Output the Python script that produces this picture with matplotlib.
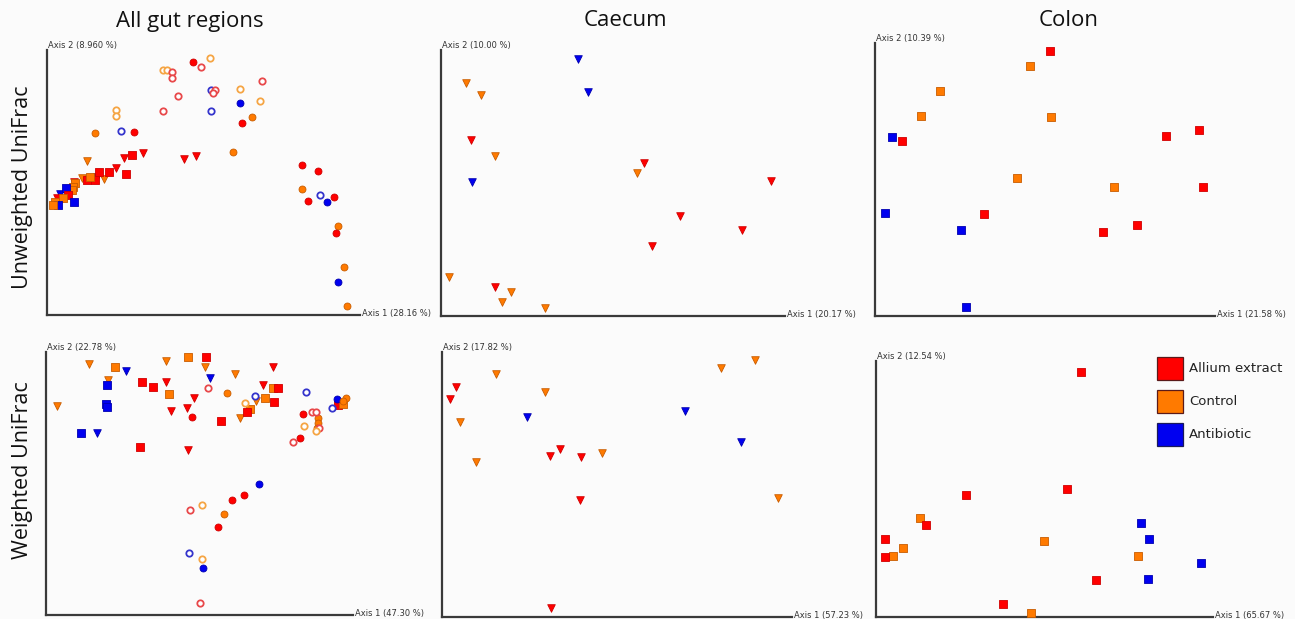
import matplotlib
matplotlib.use("Agg")
import matplotlib.pyplot as plt
from matplotlib.patches import Rectangle

# Treatment groups and their colours
groups = ["Allium extract", "Control", "Antibiotic"]
group_codes = ["A", "C", "B"]
fill_colors = {"A": "#ff0000", "C": "#ff7a00", "B": "#0000f0"}
edge_colors = {"A": "#d00000", "C": "#c85c00", "B": "#0000b0"}
ring_colors = {"A": "#e8484a", "C": "#f5a544", "B": "#3434cc"}

row_labels = ["Unweighted UniFrac", "Weighted UniFrac"]
col_titles = ["All gut regions", "Caecum", "Colon"]

axis1_labels = ["Axis 1 (28.16 %)", "Axis 1 (20.17 %)", "Axis 1 (21.58 %)",
                "Axis 1 (47.30 %)", "Axis 1 (57.23 %)", "Axis 1 (65.67 %)"]
axis2_labels = ["Axis 2 (8.960 %)", "Axis 2 (10.00 %)", "Axis 2 (10.39 %)",
                "Axis 2 (22.78 %)", "Axis 2 (17.82 %)", "Axis 2 (12.54 %)"]

# PCoA ordination scores (axis units).
# Shape codes: o filled circle, O open circle, s square, v triangle.

# --- Unweighted UniFrac, all gut regions
p1_circ_g = "ACABACCAACABACACBC"
p1_circ_x = [146.3, 48.3, 87.3, 193, 195, 205, 185.7, 255, 270.7, 255, 261.3, 280.3, 287.3, 290.7, 288.7, 297, 290.7, 300]
p1_circ_y = [252.7, 182, 183.3, 211.7, 191.7, 197.7, 163.3, 150, 143.7, 126.3, 114.3, 113, 118.3, 89, 82.3, 48, 33.3, 8.7]
p1_open_g = "CACCAAAABAABCACCCBB"
p1_open_x = [163.3, 153.7, 116.3, 119.7, 125.3, 125, 130.7, 115.7, 163.7, 168, 166.3, 163.7, 192.7, 215.3, 212.7, 69, 69, 74.3, 273]
p1_open_y = [257.3, 248, 245, 245, 243.3, 236.7, 219, 204.3, 224.7, 224.7, 222.3, 204, 226.3, 233.7, 214, 204.7, 199, 184.3, 120.3]
p1_tri_g = "CAAAAABCACBA"
p1_tri_x = [39.7, 96.3, 77.3, 69, 137, 148.7, 49.7, 57, 27, 34.7, 13, 9.7]
p1_tri_y = [154, 161.7, 156.7, 147.3, 156.3, 159.3, 138.3, 136, 133.3, 136.7, 120.7, 116.7]
p1_sq_g = "AAAAAACCCCBACBCBC"
p1_sq_x = [85, 79, 62.3, 51.7, 48, 39.7, 43, 28, 26.3, 24.7, 19, 21.3, 16.3, 27.3, 8, 11.3, 6.3]
p1_sq_y = [159.7, 141.3, 143.3, 143.3, 135, 135, 138, 131.7, 128.3, 125, 126.7, 120, 116.7, 112.7, 113.3, 110, 110]

# --- Unweighted UniFrac, caecum
p2_tri_g = "BBBCCACACAAAACACCC"
p2_tri_x = [137.3, 147, 31.3, 25, 40, 30.3, 54.3, 203.3, 195.7, 329.7, 239.3, 300.7, 211.3, 7.7, 53.7, 69.7, 60.7, 104.3]
p2_tri_y = [257, 224.3, 134.3, 232.7, 220.7, 176, 160, 152.7, 143.3, 135.3, 100, 86, 70, 39.3, 28.7, 23.7, 13.7, 8.3]

# --- Unweighted UniFrac, colon
p3_sq_g = "ACCCCBAAACCABABAAB"
p3_sq_x = [175, 154.7, 65, 45.7, 175.7, 17.3, 27.3, 291.3, 324.3, 141.7, 238.7, 328.3, 10.3, 108.7, 86, 228.3, 262, 91.3]
p3_sq_y = [264.7, 250.3, 225.3, 200, 199, 179.3, 175, 180.3, 186.3, 138, 129.3, 128.7, 103.3, 102, 86.3, 84, 91.3, 9.3]

# --- Weighted UniFrac, all gut regions
p4_tri_g = "CCBCCACBCAACAAACBA"
p4_tri_x = [43, 11.3, 80, 61.7, 120.3, 120.3, 159.3, 164, 189, 226.7, 217.3, 210, 148, 124.7, 141.3, 194, 51.3, 141.7]
p4_tri_y = [251, 209, 244, 235, 254.3, 233.3, 248.3, 236.7, 240.7, 247.7, 230, 214.3, 216.7, 204.3, 207.3, 197.3, 181.7, 165]
p4_sq_g = "CACBBBAACCACACAABAAC"
p4_sq_x = [142.3, 160.3, 68.7, 60.7, 60, 60.7, 96.3, 107, 123.3, 226.7, 231.7, 219, 228, 203.7, 201, 174.7, 35, 94, 292.3, 296.7]
p4_sq_y = [258.3, 258.3, 247.7, 230, 211, 208.3, 233.3, 228.3, 220.7, 227.3, 227.3, 217.3, 213.3, 206, 203.3, 194, 182.3, 168.3, 210, 211]
p4_circ_g = "ACAABCCCCCBAACAB"
p4_circ_x = [146, 181.3, 257.3, 254, 290.7, 299.7, 297, 272, 272, 271.3, 213, 197.7, 185.7, 178, 172.3, 157.3]
p4_circ_y = [198.3, 222.3, 200.7, 176.7, 215.7, 216.7, 214, 196.7, 191.7, 186.7, 131, 120.3, 114.7, 100.7, 88.3, 47]
p4_open_g = "ABCBAACACABACBCA"
p4_open_x = [162.3, 209.3, 199.3, 259.7, 265.7, 270.3, 258, 273.3, 270.3, 246.7, 286.3, 144.3, 156, 142.7, 156.3, 154]
p4_open_y = [227.3, 219.3, 212.3, 222.7, 202.7, 202.7, 189.3, 186.7, 184, 173.3, 206.7, 105.3, 110.3, 61.7, 56.3, 11.7]

# --- Weighted UniFrac, caecum
p5_tri_g = "CCCAACCBBBAAACCACA"
p5_tri_x = [312.7, 279.3, 53.7, 13.7, 8, 103.3, 18, 85, 243.3, 298.7, 117.7, 108, 138.7, 160, 34, 138, 335.7, 109]
p5_tri_y = [256.7, 249, 243.3, 229.7, 218.3, 225, 195.3, 199.7, 205.7, 174.7, 167.7, 161.3, 159.7, 163.7, 155.3, 116.7, 119, 8.7]

# --- Weighted UniFrac, colon
p6_sq_g = "AAACAACCACBBCBABAC"
p6_sq_x = [205.3, 89.7, 191, 44, 50, 9.3, 27.3, 17, 8.7, 168.3, 265, 273.3, 262, 324.7, 220, 271.7, 127.3, 155.3]
p6_sq_y = [244.7, 122, 128, 99.3, 92, 78.3, 69.3, 61.3, 59.7, 75.7, 94, 78, 61.3, 54.3, 37, 38.3, 13, 4.3]

# axis extents (x, y) for each panel
panel_ranges = [(313, 265), (344, 266), (340, 273), (307, 263), (350, 265), (337, 256)]

panels = [
    [("o", p1_circ_g, p1_circ_x, p1_circ_y), ("O", p1_open_g, p1_open_x, p1_open_y),
     ("v", p1_tri_g, p1_tri_x, p1_tri_y), ("s", p1_sq_g, p1_sq_x, p1_sq_y)],
    [("v", p2_tri_g, p2_tri_x, p2_tri_y)],
    [("s", p3_sq_g, p3_sq_x, p3_sq_y)],
    [("v", p4_tri_g, p4_tri_x, p4_tri_y), ("s", p4_sq_g, p4_sq_x, p4_sq_y),
     ("o", p4_circ_g, p4_circ_x, p4_circ_y), ("O", p4_open_g, p4_open_x, p4_open_y)],
    [("v", p5_tri_g, p5_tri_x, p5_tri_y)],
    [("s", p6_sq_g, p6_sq_x, p6_sq_y)],
]

# axes frames in pixels: left, top, right, bottom
frames = [(47, 50, 360, 315), (441, 50, 785, 316), (875, 43, 1215, 316),
          (46, 352, 353, 615), (442, 352, 792, 617), (876, 361, 1213, 617)]

W, H = 1295, 619
fig = plt.figure(figsize=(W / 100, H / 100), dpi=100, facecolor="#fbfbfb")

marker_size = {"o": 25, "O": 21, "s": 29, "v": 30}

for i, layers in enumerate(panels):
    l, t, r, b = frames[i]
    ax = fig.add_axes([l / W, (H - b) / H, (r - l) / W, (b - t) / H])
    ax.set_facecolor("none")
    ax.set_xlim(0, panel_ranges[i][0])
    ax.set_ylim(0, panel_ranges[i][1])
    for side in ("top", "right"):
        ax.spines[side].set_visible(False)
    for side in ("left", "bottom"):
        ax.spines[side].set_color("#3a3a3a")
        ax.spines[side].set_linewidth(1.6)
    ax.set_xticks([])
    ax.set_yticks([])
    for shape, gs, xs, ys in layers:
        for x, y, g in zip(xs, ys, gs):
            if shape == "O":
                ax.scatter([x], [y], s=marker_size[shape], marker="o", facecolor="white",
                           edgecolor=ring_colors[g], linewidths=1.3, clip_on=False, zorder=3)
            else:
                ax.scatter([x], [y], s=marker_size[shape], marker=shape, facecolor=fill_colors[g],
                           edgecolor=edge_colors[g], linewidths=0.6, clip_on=False, zorder=3)
    ax.text(0.003, 1.0, axis2_labels[i], transform=ax.transAxes, ha="left", va="bottom",
            fontsize=6, color="#333333")
    ax.text(1.006, 0.005, axis1_labels[i], transform=ax.transAxes, ha="left", va="center",
            fontsize=6, color="#333333")

# column titles and row labels
title_x = [190, 625, 1069]
for tx, title in zip(title_x, col_titles):
    fig.text(tx / W, 1 - 21 / H, title, ha="center", va="center", fontsize=16,
             family="Open Sans", color="#111111")
row_y = [187, 470]
for ry, lab in zip(row_y, row_labels):
    fig.text(23 / W, 1 - ry / H, lab, ha="center", va="center", rotation=90,
             fontsize=15.5, family="Open Sans", color="#111111")

# legend
leg_y = [357, 390, 423]
for gy, name, code in zip(leg_y, groups, group_codes):
    fig.patches.append(Rectangle((1157 / W, 1 - (gy + 23) / H), 26 / W, 23 / H,
                                 transform=fig.transFigure, facecolor=fill_colors[code],
                                 edgecolor="#5a1a1a" if code != "B" else "#1a1a5a", linewidth=0.9))
    fig.text(1189 / W, 1 - (gy + 11.5) / H, name, ha="left", va="center", fontsize=9.5,
             color="#222222")

fig.savefig("out.png", dpi=100, facecolor=fig.get_facecolor())
